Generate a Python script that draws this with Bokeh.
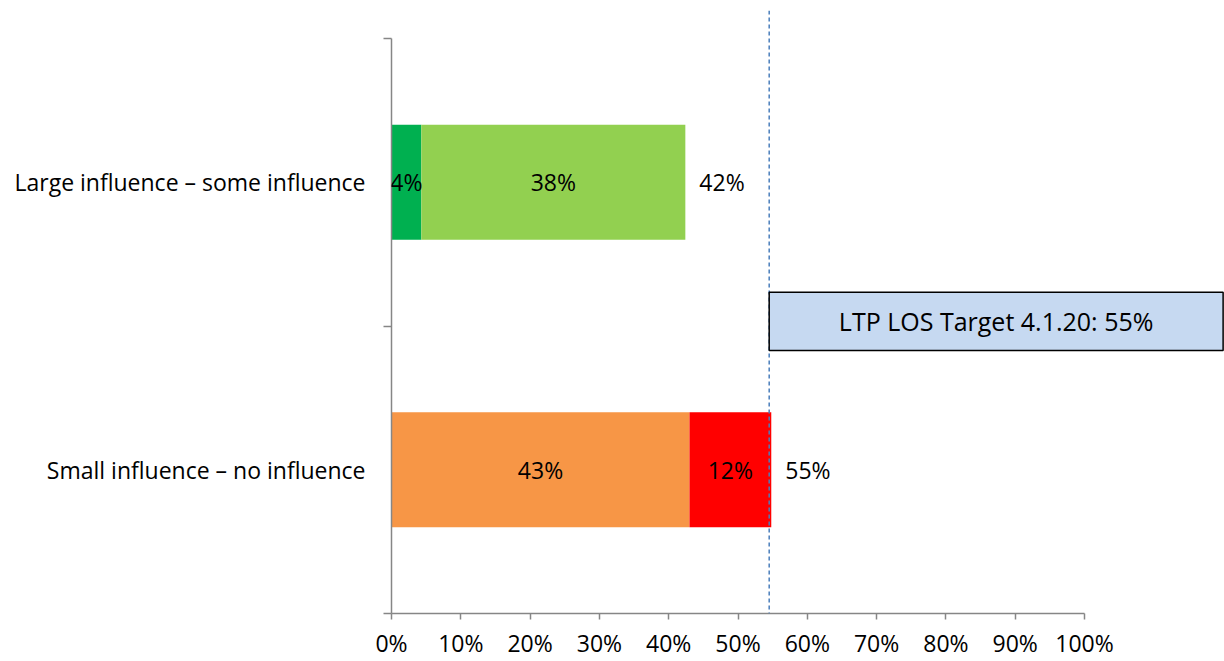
from bokeh.plotting import figure
from bokeh.models import (Range1d, FixedTicker, Span, ColumnDataSource, LabelSet,
                          BoxAnnotation, Label, PrintfTickFormatter)
from bokeh.core.properties import value
from bokeh.embed import file_html
from bokeh.resources import INLINE

# ---- data ----
categories = ["Large influence – some influence", "Small influence – no influence"]
cat_pos = [1.5, 0.5]
seg1_values = [4.3, 43.0]     # large influence / small influence
seg2_values = [38.1, 11.8]    # some influence / no influence
seg1_colors = ["#00B050", "#F79646"]
seg2_colors = ["#92D050", "#FF0000"]
x_ticks = [0, 10, 20, 30, 40, 50, 60, 70, 80, 90, 100]
target_value = 54.5
target_text = "LTP LOS Target 4.1.20: 55%"
target_box_bottom = 0.915
target_box_top = 1.117

FONT = "Open Sans"
FS = "23px"

totals = [a + b for a, b in zip(seg1_values, seg2_values)]

src = ColumnDataSource(dict(
    y=cat_pos,
    s1=seg1_values,
    s2=seg2_values,
    end=totals,
    c1=seg1_colors,
    c2=seg2_colors,
    zero=[0] * len(cat_pos),
    m1=[v / 2 for v in seg1_values],
    m2=[a + b / 2 for a, b in zip(seg1_values, seg2_values)],
    l1=[f"{round(v)}%" for v in seg1_values],
    l2=[f"{round(v)}%" for v in seg2_values],
    lt=[f"{round(v)}%" for v in totals],
))

p = figure(width=1224, height=661, output_backend="svg", toolbar_location=None,
           x_range=Range1d(0, 120.2), y_range=Range1d(0, 2.0974),
           min_border_left=391, min_border_right=0, min_border_top=10, min_border_bottom=48)
p.outline_line_color = None
p.xgrid.visible = False
p.ygrid.visible = False
p.background_fill_color = "white"
p.border_fill_color = "white"

p.hbar(y="y", left="zero", right="s1", height=0.4, fill_color="c1", line_color=None, source=src)
p.hbar(y="y", left="s1", right="end", height=0.4, fill_color="c2", line_color=None, source=src)

common = dict(text_font=value(FONT), text_font_size=FS, text_color="black",
              text_baseline="middle", source=src)
p.add_layout(LabelSet(x="m1", y="y", text="l1", text_align="center", **common))
p.add_layout(LabelSet(x="m2", y="y", text="l2", text_align="center", **common))
p.add_layout(LabelSet(x="end", y="y", text="lt", text_align="left", x_offset=14, **common))

p.add_layout(Span(location=target_value, dimension="height", line_color="#4A7EBB",
                  line_dash="4 3", line_width=1.5))
p.add_layout(BoxAnnotation(left=target_value, right=120.0, bottom=target_box_bottom,
                           top=target_box_top, fill_color="#C6D9F1", fill_alpha=1,
                           line_color="black", line_width=1.5, line_alpha=1))
p.add_layout(Label(x=(target_value + 120.0) / 2, y=(target_box_bottom + target_box_top) / 2,
                   text=target_text, text_align="center", text_baseline="middle",
                   text_font=FONT, text_font_size="25px", text_color="black"))

# x axis
xa = p.xaxis[0]
xa.ticker = FixedTicker(ticks=x_ticks)
xa.formatter = PrintfTickFormatter(format="%d%%")
xa.bounds = (0, 100)
xa.axis_line_color = "#868686"
xa.axis_line_width = 1.5
xa.major_tick_line_color = "#868686"
xa.major_tick_line_width = 1.5
xa.major_tick_in = 0
xa.major_tick_out = 6
xa.minor_tick_out = 0
xa.major_label_text_font = FONT
xa.major_label_text_font_size = FS
xa.major_label_text_color = "black"
xa.major_label_standoff = 7

# y axis
ya = p.yaxis[0]
ya.ticker = FixedTicker(ticks=cat_pos, minor_ticks=[0, 1, 2])
ya.major_label_overrides = {v: c for v, c in zip(cat_pos, categories)}
ya.bounds = (0, 2)
ya.axis_line_color = "#868686"
ya.axis_line_width = 1.5
ya.major_tick_in = 0
ya.major_tick_out = 0
ya.minor_tick_in = 0
ya.minor_tick_out = 8
ya.minor_tick_line_color = "#868686"
ya.minor_tick_line_width = 1.5
ya.major_label_text_font = FONT
ya.major_label_text_font_size = FS
ya.major_label_text_color = "black"
ya.major_label_standoff = 18

open("out.html", "w").write(file_html(p, INLINE))
